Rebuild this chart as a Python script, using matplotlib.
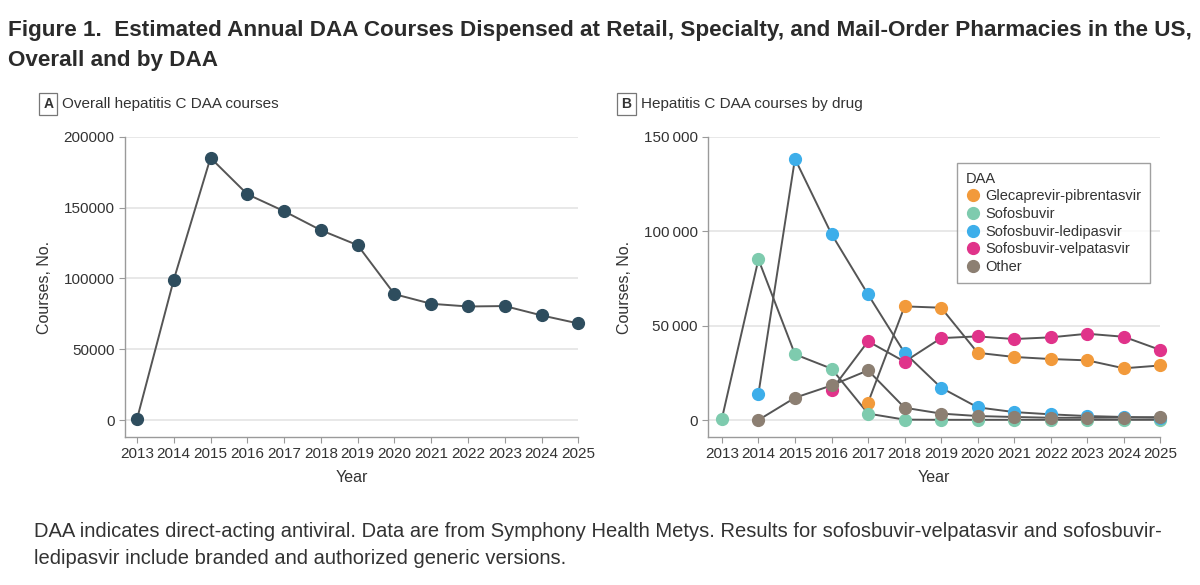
import numpy as np
import matplotlib
matplotlib.use("Agg")
from matplotlib import pyplot as plt
from matplotlib.lines import Line2D

plt.rcParams['font.family'] = ['Liberation Sans', 'DejaVu Sans']

# Data
years = list(range(2013, 2026))
overall = [500, 99000, 185200, 159500, 147500, 134100, 123500, 88900, 82100, 80200, 80500, 73900, 68200]

drug_names = ["Glecaprevir-pibrentasvir", "Sofosbuvir", "Sofosbuvir-ledipasvir",
              "Sofosbuvir-velpatasvir", "Other"]
glecaprevir = [None, None, None, None, 9200, 60200, 59500, 35600, 33400, 32300, 31600, 27400, 28900]
sofosbuvir = [700, 85100, 34800, 27200, 3400, 200, 100, 100, 100, 100, 100, 100, 100]
ledipasvir = [None, 13900, 138400, 98500, 66500, 35600, 17100, 6700, 4200, 3000, 2100, 1600, 1200]
velpatasvir = [None, None, None, 15900, 41700, 30900, 43400, 44300, 42900, 43800, 45700, 44100, 37100]
other = [None, 0, 11800, 18300, 26300, 6500, 3400, 2100, 1600, 1200, 1200, 1300, 1500]
drug_colors = ["#F29A3B", "#7ECBAE", "#3DAEEA", "#E0338A", "#8C7F72"]

title = ("Figure 1.  Estimated Annual DAA Courses Dispensed at Retail, Specialty, and Mail-Order Pharmacies in the US,\n"
         "Overall and by DAA")
caption = ("DAA indicates direct-acting antiviral. Data are from Symphony Health Metys. Results for sofosbuvir-velpatasvir and sofosbuvir-\n"
           "ledipasvir include branded and authorized generic versions.")

line_col = "#555555"
spine_col = "#9a9a9a"
text_col = "#333333"


def style_axes(ax, ticks, labels):
    for s in ["top", "right"]:
        ax.spines[s].set_visible(False)
    for s in ["left", "bottom"]:
        ax.spines[s].set_color(spine_col)
        ax.spines[s].set_linewidth(1.0)
    ax.set_xticks(years)
    ax.set_xticklabels([str(y) for y in years], fontsize=11, color=text_col)
    ax.set_yticks(ticks)
    ax.set_yticklabels(labels, fontsize=11, color=text_col)
    ax.tick_params(axis="both", color=spine_col, length=4, width=0.8)
    ax.grid(axis="y", color="#e6e6e6", linewidth=1.3, zorder=0)
    ax.set_xlabel("Year", fontsize=11.5, color=text_col, labelpad=6)
    ax.set_ylabel("Courses, No.", fontsize=11.5, color=text_col, labelpad=8)


fig = plt.figure(figsize=(12, 5.85), dpi=100)
fig.text(0.007, 0.965, title, fontsize=16.2, fontweight="bold", color="#2b2b2b",
         va="top", ha="left", linespacing=1.55)
fig.text(0.028, 0.108, caption, fontsize=14.5, color=text_col, va="top", ha="left",
         linespacing=1.55)

# Panel A
axA = fig.add_axes([0.104, 0.253, 0.378, 0.513])
axA.set_xlim(2012.67, 2025)
axA.set_ylim(-12000, 200000)
style_axes(axA, [0, 50000, 100000, 150000, 200000],
           ["0", "50000", "100000", "150000", "200000"])
axA.plot(years, overall, color=line_col, lw=1.4, zorder=3, clip_on=False)
axA.plot(years, overall, "o", color="#2E4D5E", ms=8.5, zorder=4, clip_on=False)

# Panel B
axB = fig.add_axes([0.59, 0.253, 0.377, 0.513])
axB.set_xlim(2012.62, 2025)
axB.set_ylim(-9000, 150000)
style_axes(axB, [0, 50000, 100000, 150000],
           ["0", "50\u2009000", "100\u2009000", "150\u2009000"])

series = [glecaprevir, sofosbuvir, ledipasvir, velpatasvir, other]
for vals in series:
    xs = [y for y, v in zip(years, vals) if v is not None]
    vs = [v for v in vals if v is not None]
    axB.plot(xs, vs, color=line_col, lw=1.4, zorder=3, clip_on=False)
for i in [4, 0, 2, 3, 1]:
    vals = series[i]
    xs = [y for y, v in zip(years, vals) if v is not None]
    vs = [v for v in vals if v is not None]
    axB.plot(xs, vs, "o", color=drug_colors[i], ms=8.5, zorder=4 + i * 0.1, clip_on=False)

handles = [Line2D([], [], marker="o", ls="", color=c, ms=8.5) for c in drug_colors]
leg = axB.legend(handles, drug_names, title="DAA", loc="upper right",
                 bbox_to_anchor=(0.978, 0.913), borderaxespad=0, fontsize=10.5,
                 title_fontsize=10.5, frameon=True, fancybox=False, handletextpad=0.4,
                 labelspacing=0.25, borderpad=0.6, handlelength=1.0)
leg._legend_box.align = "left"
leg.get_frame().set_edgecolor("#888888")
leg.get_frame().set_linewidth(1.0)
for t in leg.get_texts():
    t.set_color(text_col)
leg.get_title().set_color(text_col)

# Panel labels
for x, lab, txt in [(0.036, "A", "Overall hepatitis C DAA courses"),
                    (0.518, "B", "Hepatitis C DAA courses by drug")]:
    fig.text(x, 0.822, lab, fontsize=10, fontweight="bold", color=text_col, ha="left", va="center",
             bbox=dict(boxstyle="square,pad=0.3", fc="white", ec="#777777", lw=0.9))
    fig.text(x + 0.016, 0.822, txt, fontsize=11, color=text_col, ha="left", va="center")

fig.savefig("out.png", dpi=100, facecolor="white")
